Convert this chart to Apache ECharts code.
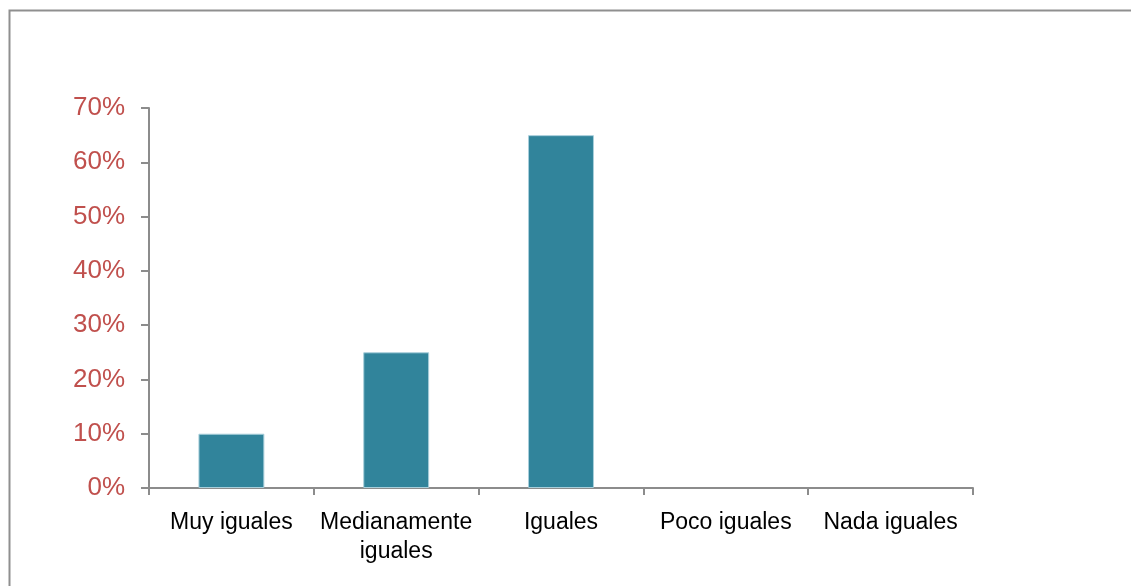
<!DOCTYPE html>
<html>
<head>
<meta charset="utf-8">
<script src="https://cdn.jsdelivr.net/npm/echarts@6/dist/echarts.min.js"></script>
<style>
  html, body { margin: 0; padding: 0; background: #ffffff; }
  #chart { width: 1131px; height: 586px; }
</style>
</head>
<body>
<div id="chart"></div>
<script>
// Categories along the horizontal axis
const categories = ['Muy iguales', 'Medianamente\niguales', 'Iguales', 'Poco iguales', 'Nada iguales'];
// Share of responses per category (fraction of 1)
const shares = [0.10, 0.25, 0.65, 0, 0];
// Value axis range and step
const axisMin = 0;
const axisMax = 0.7;
const axisStep = 0.1;

const fontStack = '"Liberation Sans", Arial, sans-serif';
const axisGray = '#8c8c8c';

const chart = echarts.init(document.getElementById('chart'), null, { renderer: 'canvas' });

// Empty categories get no outline so nothing shows along the baseline
const barData = shares.map(v => ({
  value: v,
  itemStyle: { borderWidth: v > 0 ? 1 : 0 }
}));

chart.setOption({
  backgroundColor: '#ffffff',
  animation: false,
  graphic: [{
    type: 'rect',
    shape: { x: 9.5, y: 10.5, width: 1300, height: 800 },
    style: { fill: 'none', stroke: '#8f8f8f', lineWidth: 2 },
    silent: true
  }],
  grid: { left: 149, right: 158, top: 108, bottom: 98 },
  xAxis: {
    type: 'category',
    data: categories,
    axisLine: { lineStyle: { color: axisGray, width: 2 } },
    axisTick: { show: true, alignWithLabel: false, length: 7, lineStyle: { color: axisGray, width: 2 } },
    axisLabel: {
      color: '#000000',
      fontFamily: fontStack,
      fontSize: 23,
      lineHeight: 29,
      margin: 20,
      interval: 0
    },
    splitLine: { show: false }
  },
  yAxis: {
    type: 'value',
    min: axisMin,
    max: axisMax,
    interval: axisStep,
    axisLine: { show: true, lineStyle: { color: axisGray, width: 2 } },
    axisTick: { show: true, length: 8, lineStyle: { color: axisGray, width: 2 } },
    axisLabel: {
      color: '#c0504d',
      fontFamily: fontStack,
      fontSize: 26,
      margin: 24,
      padding: [5, 0, 0, 0],
      formatter: v => Math.round(v * 100) + '%'
    },
    splitLine: { show: false }
  },
  series: [{
    type: 'bar',
    data: barData,
    barWidth: '40%',
    itemStyle: {
      color: '#31849b',
      borderColor: '#a9cfdb',
      borderWidth: 1
    }
  }]
});
</script>
</body>
</html>
